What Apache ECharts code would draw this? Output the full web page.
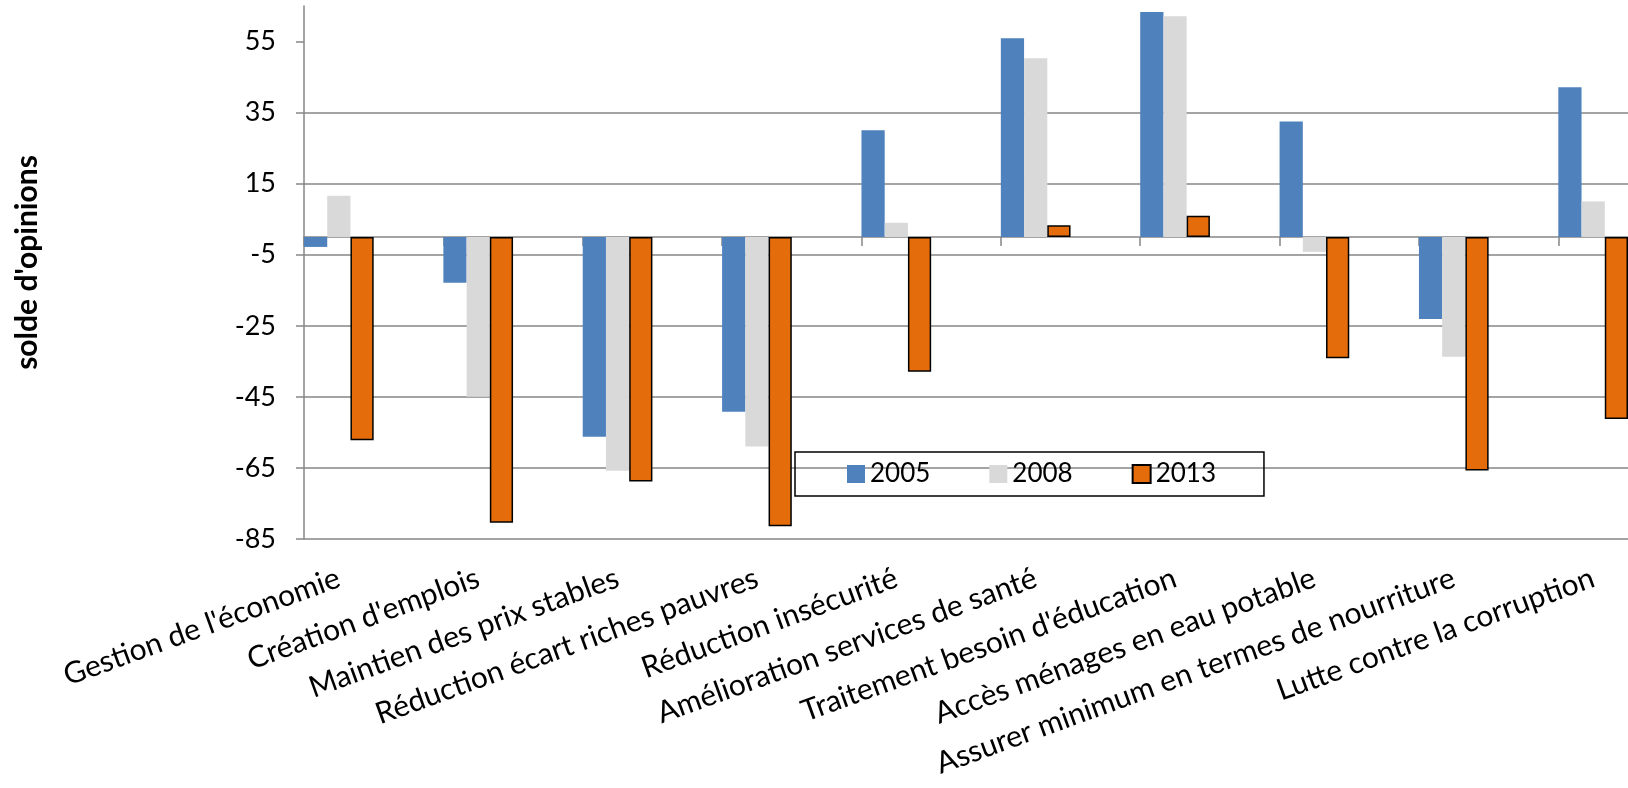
<!DOCTYPE html>
<html>
<head>
<meta charset="utf-8">
<script src="https://cdn.jsdelivr.net/npm/echarts@6/dist/echarts.min.js"></script>
<style>
html, body { margin: 0; padding: 0; background: #fff; }
#chart { width: 1628px; height: 788px; }
</style>
</head>
<body>
<div id="chart"></div>
<script>
var categories = ["Gestion de l'économie", "Création d'emplois", "Maintien des prix stables",
    "Réduction écart riches pauvres", "Réduction insécurité", "Amélioration services de santé",
    "Traitement besoin d'éducation", "Accès ménages en eau potable",
    "Assurer minimum en termes de nourriture", "Lutte contre la corruption"];
var years = ['2005', '2008', '2013'];
var values2005 = [-2.8, -12.9, -56.2, -49.2, 30, 55.9, 63.3, 32.5, -23.1, 42.1];
var values2008 = [11.6, -45, -65.8, -59, 4, 50.3, 62.1, -4.2, -33.7, 10];
var values2013 = [-57.2, -80.4, -68.8, -81.4, -37.9, 3.3, 6, -34.1, -65.7, -51.2];
var yTicks = [-85, -65, -45, -25, -5, 15, 35, 55];

// each category gets two slots: the bars sit in the first, the second stays empty.
// the plot is cut at the right edge, so the last empty slot is dropped
function spread(arr, filler) {
    var out = [];
    arr.forEach(function (v) { out.push(v, filler); });
    return out.slice(0, -1);
}

var gridColor = '#868686';
var font = 'Lato';

var chart = echarts.init(document.getElementById('chart'));
var option = {
    animation: false,
    backgroundColor: '#fff',
    grid: { left: 304, top: 6, right: 0, height: 533 },
    legend: {
        data: years,
        left: 795,
        top: 452,
        icon: 'rect',
        itemWidth: 18,
        itemHeight: 18,
        itemGap: 59,
        padding: [9, 48, 9, 52],
        borderColor: '#000',
        borderWidth: 1.5,
        textStyle: { fontFamily: font, fontSize: 26, color: '#000', lineHeight: 26 }
    },
    xAxis: [
        {
            type: 'category',
            data: spread(categories, ''),
            position: 'top',
            axisLine: { show: true, onZero: true, lineStyle: { color: gridColor, width: 1.5 } },
            axisTick: {
                show: true, inside: true, length: 9,
                interval: function (i) { return i % 2 === 0; },
                lineStyle: { color: gridColor, width: 1.5 }
            },
            axisLabel: { show: false },
            splitLine: { show: false }
        },
        {
            type: 'category',
            data: spread(categories, ''),
            position: 'bottom',
            axisLine: { show: false, onZero: false },
            axisTick: { show: false },
            axisLabel: { interval: 0, rotate: 20, margin: 38, fontFamily: font, fontSize: 30, color: '#000' },
            splitLine: { show: false }
        }
    ],
    yAxis: {
        type: 'value',
        min: -85,
        max: 65,
        interval: 20,
        name: "solde d'opinions",
        nameLocation: 'middle',
        nameGap: 262,
        nameTextStyle: { fontFamily: font, fontWeight: 'bold', fontSize: 30, color: '#000', padding: [0, 0, 0, 20] },
        axisLine: { show: true, lineStyle: { color: gridColor, width: 1.5 } },
        axisTick: { show: true, length: 8, customValues: yTicks, lineStyle: { color: gridColor, width: 1.5 } },
        axisLabel: { customValues: yTicks, margin: 28, fontFamily: font, fontSize: 27, color: '#000' },
        splitLine: { show: true, showMaxLine: false, lineStyle: { color: gridColor, width: 1.5 } }
    },
    series: [
        {
            name: '2005', type: 'bar', xAxisIndex: 0,
            data: spread(values2005, null),
            barGap: '0%', barCategoryGap: '0%',
            itemStyle: { color: '#4F81BD' }
        },
        {
            name: '2008', type: 'bar', xAxisIndex: 0,
            data: spread(values2008, null),
            barGap: '0%', barCategoryGap: '0%',
            itemStyle: { color: '#D9D9D9' }
        },
        {
            name: '2013', type: 'bar', xAxisIndex: 0,
            data: spread(values2013, null),
            barGap: '0%', barCategoryGap: '0%',
            itemStyle: { color: '#E46C0A', borderColor: '#000', borderWidth: 1.5 }
        }
    ]
};
chart.setOption(option);
</script>
</body>
</html>
